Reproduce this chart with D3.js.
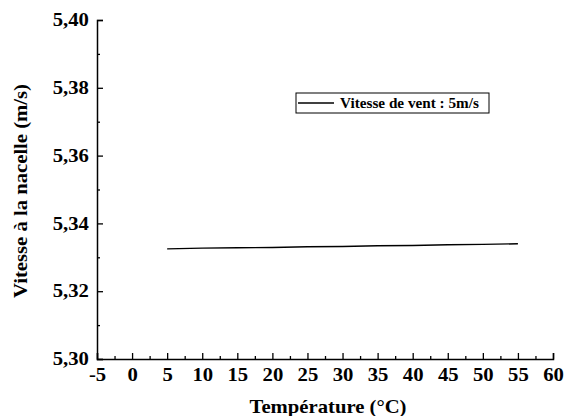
<!DOCTYPE html>
<html>
<head>
<meta charset="utf-8">
<script src="https://cdn.jsdelivr.net/npm/d3@7"></script>
<style>
  body { margin: 0; background: #fff; }
</style>
</head>
<body>
<div id="chart"></div>
<script>
// donnees
const temperatures = [5, 10, 15, 20, 25, 30, 35, 40, 45, 50, 55];
const vitesses = [5.3325, 5.3327, 5.3328, 5.3329, 5.3331, 5.3332, 5.3334, 5.3335, 5.3337, 5.3338, 5.3340];
const xTicks = [-5, 0, 5, 10, 15, 20, 25, 30, 35, 40, 45, 50, 55, 60];
const yTicks = [5.30, 5.32, 5.34, 5.36, 5.38, 5.40];
const legendLabel = "Vitesse de vent : 5m/s";

const width = 573, height = 416;
const margin = { left: 97, right: 20, top: 20, bottom: 57 };
const serif = "'Liberation Serif', 'Times New Roman', Times, serif";
const stretch = "scale(1.15,1)"; // le texte de l'original est un peu elargi

const svg = d3.select("#chart").append("svg").attr("width", width).attr("height", height)
    .style("font-family", serif).style("font-weight", "bold");

const x = d3.scaleLinear().domain([-5, 60]).range([margin.left, width - margin.right]);
const y = d3.scaleLinear().domain([5.30, 5.40]).range([height - margin.bottom, margin.top]);

const fmtY = d => d.toFixed(2).replace(".", ",");

// axe x : graduations vers l'interieur
const xMinor = d3.range(-2.5, 60, 5);
svg.append("g")
    .attr("transform", "translate(0," + y(5.30) + ")")
    .call(d3.axisBottom(x).tickValues(xMinor).tickSize(-3).tickFormat(""))
    .call(g => g.select(".domain").remove())
    .selectAll("line").attr("stroke-width", 1.3);

const gx = svg.append("g")
    .attr("transform", "translate(0," + y(5.30) + ")")
    .call(d3.axisBottom(x).tickValues(xTicks).tickSize(-6).tickPadding(9).tickFormat(d => String(d)));
gx.select(".domain").attr("stroke-width", 1.5);
gx.selectAll("line").attr("stroke-width", 1.3);
gx.selectAll("text").attr("font-size", 18).attr("font-family", serif).attr("font-weight", "bold")
    .attr("dy", "0.71em").attr("transform", stretch);

// axe y
const yMinor = [5.31, 5.33, 5.35, 5.37, 5.39];
svg.append("g")
    .attr("transform", "translate(" + x(-5) + ",0)")
    .call(d3.axisLeft(y).tickValues(yMinor).tickSize(-3).tickFormat(""))
    .call(g => g.select(".domain").remove())
    .selectAll("line").attr("stroke-width", 1.3);

const gy = svg.append("g")
    .attr("transform", "translate(" + x(-5) + ",0)")
    .call(d3.axisLeft(y).tickValues(yTicks).tickSize(-6).tickPadding(7).tickFormat(fmtY));
gy.select(".domain").attr("stroke-width", 1.5);
gy.selectAll("line").attr("stroke-width", 1.3);
gy.selectAll("text").attr("font-size", 18).attr("font-family", serif).attr("font-weight", "bold")
    .attr("transform", stretch);

// courbe
const line = d3.line().x((d, i) => x(temperatures[i])).y(d => y(d));
svg.append("path")
    .datum(vitesses)
    .attr("d", line)
    .attr("fill", "none")
    .attr("stroke", "#000")
    .attr("stroke-width", 1.4);

// titres des axes
svg.append("text")
    .attr("transform", "translate(328,413) " + stretch)
    .attr("text-anchor", "middle")
    .attr("font-size", 18)
    .text("Température (°C)");

svg.append("text")
    .attr("transform", "translate(27,191) rotate(-90) " + stretch)
    .attr("text-anchor", "middle")
    .attr("font-size", 18)
    .text("Vitesse à la nacelle (m/s)");

// legende
const lg = svg.append("g").attr("transform", "translate(296,93)");
lg.append("rect").attr("width", 193).attr("height", 20)
    .attr("fill", "#fff").attr("stroke", "#000").attr("stroke-width", 1);
lg.append("line").attr("x1", 2).attr("x2", 38).attr("y1", 10).attr("y2", 10)
    .attr("stroke", "#000").attr("stroke-width", 1.5);
lg.append("text").attr("transform", "translate(44,15) scale(1.05,1)")
    .attr("font-size", 14.5).text(legendLabel);
</script>
</body>
</html>
